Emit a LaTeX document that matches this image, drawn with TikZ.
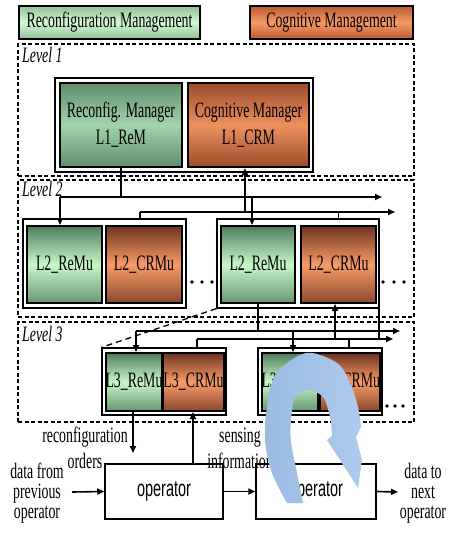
\documentclass[tikz,border=0pt]{standalone}
\usepackage{fontspec}
\setmainfont{Liberation Serif}
\newfontfamily\opfont{Liberation Sans}
\usepackage{graphicx}
\usetikzlibrary{arrows.meta}
\definecolor{gdark}{HTML}{4F7D5C}
\definecolor{glight}{HTML}{C8F7C8}
\definecolor{odark}{HTML}{6E3420}
\definecolor{olight}{HTML}{F89C68}
\definecolor{lgd}{HTML}{5E8E6B}
\definecolor{lgl}{HTML}{A4D4AC}
\definecolor{lod}{HTML}{9A4C2A}
\definecolor{lol}{HTML}{EE9160}
\definecolor{leggd}{HTML}{8FBF98}
\definecolor{leggl}{HTML}{D4FAD4}
\definecolor{legod}{HTML}{B85A33}
\definecolor{legol}{HTML}{F89A64}
\definecolor{blA}{HTML}{9BBBE3}
\definecolor{blB}{HTML}{AECAEC}
\newcommand{\sq}[1]{\scalebox{0.63}[1]{#1}}
\tikzset{
  every node/.style={font=\fontsize{22}{27}\selectfont, inner sep=0pt, align=center},
  lvl/.style={draw, line width=1.3pt, dash pattern=on 4pt off 2.5pt},
  grp/.style={draw, line width=1.2pt, fill=white},
  remu/.style={draw, line width=2pt, shading angle=45, top color=gdark, bottom color=gdark!80!glight, middle color=glight},
  crmu/.style={draw, line width=2pt, shading angle=45, top color=odark, bottom color=odark!80!olight, middle color=olight},
  lonegreen/.style={draw, line width=2.5pt, shading angle=45, top color=lgd, bottom color=lgd, middle color=lgl},
  loneorange/.style={draw, line width=2.5pt, shading angle=45, top color=lod, bottom color=lod, middle color=lol},
  leggreen/.style={draw, line width=2.5pt, top color=leggd, bottom color=leggd, middle color=leggl},
  legorange/.style={draw, line width=2.5pt, top color=legod, bottom color=legod, middle color=legol},
  con/.style={line width=1.6pt},
  arr/.style={con, -{Triangle[length=7pt,width=6pt]}},
  opbox/.style={draw, line width=1.5pt, fill=white, font=\opfont\fontsize{23}{26}\selectfont},
  lbl/.style={anchor=base west, font=\itshape\fontsize{22}{27}\selectfont},
}
\begin{document}
\begin{tikzpicture}[x=1pt,y=-1pt]
\useasboundingbox[fill=white] (0,0) rectangle (448,533);

% legend
\node[leggreen, minimum width=181pt, minimum height=33pt] (legR) at (109.5,22.5) {\sq{Reconfiguration Management}};
\node[legorange, minimum width=163pt, minimum height=33pt] (legC) at (331.5,22.5) {\sq{Cognitive Management}};

% level boxes
\node[lvl, minimum width=396pt, minimum height=132pt] (lv1) at (216,110) {};
\node[lvl, minimum width=396pt, minimum height=137pt] (lv2) at (216,248.5) {};
\node[lvl, minimum width=396pt, minimum height=100pt] (lv3) at (216,372) {};
\node[lbl] (lab1) at (22,62) {\sq{Level 1}};
\node[lbl] (lab2) at (22,196) {\sq{Level 2}};
\node[lbl] (lab3) at (22,341) {\sq{Level 3}};

% level 1
\node[grp, minimum width=258pt, minimum height=94pt] (l1grp) at (184,125) {};
\node[lonegreen, minimum width=122pt, minimum height=84pt] (l1rem) at (121,125) {\sq{Reconfig. Manager}\\\sq{L1\_ReM}};
\node[loneorange, minimum width=121pt, minimum height=84pt] (l1crm) at (248.5,125) {\sq{Cognitive Manager}\\\sq{L1\_CRM}};

% level 2
\node[grp, minimum width=163pt, minimum height=89pt] (l2g1) at (104.5,263.5) {};
\node[remu, minimum width=75pt, minimum height=77pt] (l2r1) at (64.5,264.5) {\sq{L2\_ReMu}};
\node[crmu, minimum width=76pt, minimum height=77pt] (l2c1) at (144,264.5) {\sq{L2\_CRMu}};
\node[grp, minimum width=162pt, minimum height=89pt] (l2g2) at (298,263.5) {};
\node[remu, minimum width=74pt, minimum height=77pt] (l2r2) at (258,264.5) {\sq{L2\_ReMu}};
\node[crmu, minimum width=75pt, minimum height=77pt] (l2c2) at (338.5,264.5) {\sq{L2\_CRMu}};
\foreach \dx in {192,202,212,383,394,404} \fill (\dx,282) circle (1.8pt);

% level 3
\node[grp, minimum width=124pt, minimum height=67pt] (l3g1) at (164,381.5) {};
\node[remu, minimum width=56pt, minimum height=58pt] (l3r1) at (134,382) {\sq{L3\_ReMu}};
\node[crmu, minimum width=57pt, minimum height=58pt] (l3c1) at (193.5,382) {\sq{L3\_CRMu}};
\node[grp, minimum width=124pt, minimum height=67pt] (l3g2) at (320,381.5) {};
\node[remu, minimum width=56pt, minimum height=58pt] (l3r2) at (290,382) {\sq{L3\_ReMu}};
\node[crmu, minimum width=56pt, minimum height=58pt] (l3c2) at (350,382) {\sq{L3\_CRMu}};
\foreach \dx in {387,395,403} \fill (\dx,406) circle (1.8pt);

% operators
\node[opbox, minimum width=118pt, minimum height=55pt] (op1) at (164,491.5) {\sq{operator}};
\node[opbox, minimum width=120pt, minimum height=55pt] (op2) at (316,491.5) {\sq{operator}};

% L1 -> L2 connectors
\coordinate (b1s) at (60,197);
\coordinate (b1e) at (382,197);
\coordinate (b2s) at (140,212);
\coordinate (b2e) at (395,212);
\coordinate (t1) at (252,197);
\coordinate (t2) at (245,212);
\draw[con] (l1rem.south) -- (l1rem.south |- b1s);
\draw[arr] (b1s) -- (b1e);
\draw[arr] (b1s) -- (b1s |- l2r1.north);
\draw[arr] (t1) -- (t1 |- l2r2.north);
\draw[arr] (b2s) -- (b2e);
\draw[con] (b2s) -- (b2s |- l2g1.north);
\draw[arr] (t2) -- (t2 |- l1crm.south);
\draw[con] (l2c2.north |- l2g2.north) -- (l2c2.north |- b2s);

% L2 -> L3 connectors
\coordinate (b3s) at (136,331);
\coordinate (b3e) at (400,331);
\coordinate (b4s) at (197,339);
\coordinate (b4e) at (393,339);
\coordinate (t3) at (293,331);
\coordinate (t4) at (335,339);
\coordinate (t5) at (379,339);
\coordinate (t6) at (349,339);
\draw[con] (l2r2.south) -- (l2r2.south |- b3s);
\draw[arr] (b3s) -- (b3e);
\draw[arr] (b3s) -- (b3s |- l3r1.north);
\draw[arr] (t3) -- (t3 |- l3r2.north);
\draw[arr] (b4s) -- (b4e);
\draw[con] (b4s) -- (b4s |- l3g1.north);
\draw[arr] (t4) -- (t4 |- l2c2.south);
\draw[con] (t5 |- l2g2.south) -- (t5);
\draw[con] (t6) -- (t6 |- l3g2.north);
\draw[line width=1.3pt, dash pattern=on 6pt off 4pt] (l2g2.south west) -- (l3g1.north west);

% bottom connectors
\coordinate (ro) at (133,453);
\coordinate (si) at (193,470);
\coordinate (din) at (72,492);
\coordinate (dout) at (398,492);
\draw[arr] (ro |- l3r1.south) -- (ro);
\draw[arr] (si |- op1.north) -- (si |- l3c1.south);
\draw[arr] (din) -- (op1.west);
\draw[arr] (op1.east) -- (op2.west);
\draw[arr] (op2.east) -- (dout);

% labels
\node (rtxt) at (85,448) {\sq{reconfiguration}\\[-1pt]\sq{orders}};
\node (stxt) at (240,448) {\sq{sensing}\\[-1pt]\sq{information}};
\node[font=\fontsize{22}{20}\selectfont] (dfrom) at (37,493) {\sq{data from}\\\sq{previous}\\\sq{operator}};
\node[font=\fontsize{22}{20}\selectfont] (dto) at (423,493) {\sq{data to}\\\sq{next}\\\sq{operator}};

% blue circular arrow
\path[left color=blA, right color=blB]
  plot[smooth, tension=0.55] coordinates {(287,503) (272,473) (265,440) (267,407) (276,374) (306,353) (337,363) (350,383) (358,407) (361,427)}
  -- (356,437) -- (362,460) -- (358,488) -- (327,440) -- (332,436)
  -- plot[smooth, tension=0.55] coordinates {(332,436) (330,417) (323,397) (308,390) (295,398) (291,420) (291,442) (297,473) (303,503)}
  -- cycle;
\end{tikzpicture}
\end{document}
